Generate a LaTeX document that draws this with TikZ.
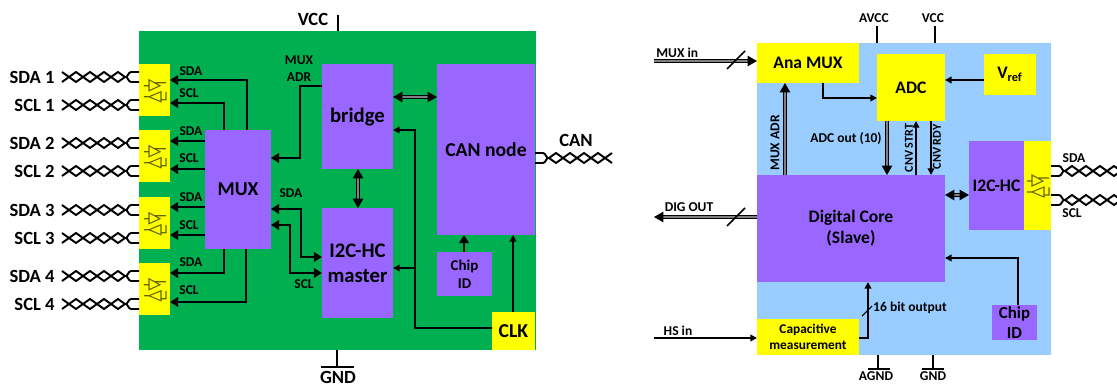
\documentclass[tikz,border=0pt]{standalone}
\usepackage{fontspec}
\setmainfont{Carlito}
\usetikzlibrary{arrows.meta}
\definecolor{chipgreen}{HTML}{00B050}
\definecolor{corepurple}{HTML}{9966FF}
\definecolor{padyellow}{HTML}{FFFF00}
\definecolor{slaveblue}{HTML}{99CCFF}
\tikzset{
    box/.style={anchor=north west, inner sep=0pt, outer sep=0pt, align=center, font=\fontsize{11.2}{14}\selectfont\bfseries},
    purplebox/.style={box, fill=corepurple},
    yellowbox/.style={box, fill=padyellow},
    smallbox/.style={font=\fontsize{10}{12}\selectfont\bfseries},
    lab/.style={inner sep=0pt, align=center, font=\fontsize{7.7}{9.6}\selectfont\bfseries},
    tinylab/.style={lab, font=\fontsize{6.9}{8}\selectfont\bfseries},
    pin/.style={inner sep=0pt, font=\fontsize{10.6}{12}\selectfont\bfseries},
    sig/.style={line width=1.5pt, ->, >={Triangle[length=4.6pt,width=5.4pt]}},
    wire/.style={line width=.9pt, ->, >={Triangle[length=3.8pt,width=3.8pt]}},
    bus/.style={line width=.6pt, double=gray, double distance=.8pt, >={Triangle[length=5.4pt,width=6pt]}},
    rail/.style={line width=1.1pt},
    twistline/.style={line width=1.1pt, black, line join=round},
    twist/.pic={
        \foreach \s in {1,-1}
            \draw[twistline] (0,5*\s) -- (-8,5*\s) to[out=180,in=35*\s] (-14,0) -- (-21,5*\s) -- (-28,0) -- (-35,-5*\s) -- (-42,0) -- (-49,5*\s) -- (-56,0) -- (-63,-5*\s) -- (-70,0) -- (-77,5*\s);
    },
    buffer/.pic={
        \draw[black!60!padyellow, line width=.6pt] (-5.5,-10.5) -- (-5.5,0.5) -- (5.5,-4.5) -- cycle
            (-10.5,-4.5) -- (-5.5,-4.5) (0.5,-7.5) -- (11.5,-7.5)
            (-5.5,6.5) -- (6.5,1.5) -- (6.5,11.5) -- cycle
            (-10.5,6.5) -- (-5.5,6.5) (6.5,9.5) -- (11.5,9.5) -- (11.5,2);
    }
}
\begin{document}
\begin{tikzpicture}[x=0.02cm,y=-0.02cm]
    \useasboundingbox (0,0) rectangle (1117,385);

    % Chip de la izquierda
    \node[box, fill=chipgreen, minimum width=7.94cm, minimum height=6.38cm] (chip) at (139,31) {};
    \node[purplebox, minimum width=1.32cm, minimum height=2.38cm] (mux) at (205,130) {MUX};
    \node[purplebox, minimum width=1.42cm, minimum height=2.1cm, font=\fontsize{11.8}{14}\selectfont\bfseries] (bridge) at (322,64) {\raisebox{-1.5pt}{bridge}};
    \node[purplebox, minimum width=1.42cm, minimum height=2.2cm, font=\fontsize{11.8}{14}\selectfont\bfseries] (master) at (322,208) {I2C-HC\\master};
    \node[purplebox, minimum width=1.96cm, minimum height=3.42cm] (can) at (437,64) {CAN node};
    \node[purplebox, minimum width=1.1cm, minimum height=.88cm, font=\fontsize{8.5}{10.4}\selectfont\bfseries] (chipid) at (437,252) {Chip\\ID};
    \node[yellowbox, minimum width=.86cm, minimum height=.76cm] (clk) at (492,312) {CLK};

    % Transceptores y pares trenzados
    \foreach \i/\y in {1/64,2/130,3/197,4/263} {
        \node[yellowbox, minimum width=.62cm, minimum height=1.05cm] (buf\i) at (139,\y) {};
        \pic at (buf\i.center) {buffer};
        \pic at (139,\y+13) {twist};
        \pic at (139,\y+41) {twist};
        \node[pin, anchor=east] (sda\i) at (55,\y+13) {SDA \i};
        \node[pin, anchor=east] (scl\i) at (55,\y+41) {SCL \i};
    }

    % Etiquetas SDA y SCL hacia los transceptores
    \foreach \n/\y in {a/71,b/131,c/197,d/262}
        \node[lab] (sdalab\n) at (191,\y) {SDA};
    \foreach \n/\y in {a/93,b/158,c/225,d/290}
        \node[lab] (scllab\n) at (189,\y) {SCL};

    % Salidas del MUX
    \draw[sig] (mux.north -| 247,0) |- (buf1.east |- 0,80);
    \draw[sig] (mux.north -| 224,0) |- (buf1.east |- 0,103);
    \draw[sig] (mux.west |- 0,141) -- (buf2.east |- 0,141);
    \draw[sig] (mux.west |- 0,169) -- (buf2.east |- 0,169);
    \draw[sig] (mux.west |- 0,207) -- (buf3.east |- 0,207);
    \draw[sig] (mux.west |- 0,235) -- (buf3.east |- 0,235);
    \draw[sig] (mux.south -| 224,0) |- (buf4.east |- 0,273);
    \draw[sig] (mux.south -| 246,0) |- (buf4.east |- 0,302);

    % Conexiones internas
    \draw[sig] (bridge.west |- 0,86) -| (300,158) -- (mux.east |- 0,158);
    \draw[sig, <->] (mux.east |- 0,209) -| (301,257) -- (master.west |- 0,257);
    \draw[sig, <->] (mux.east |- 0,225) -| (290,273) -- (master.west |- 0,273);
    \node[lab] (muxadr) at (299,68.5) {MUX\\ADR};
    \node[lab] (sdamid) at (291,193) {SDA};
    \node[lab] (sclmid) at (304,284) {SCL};
    \draw[bus, <->] (bridge.east |- 0,97) -- (can.west |- 0,97);
    \draw[bus, <->] (bridge.south -| 358,0) -- (master.north -| 358,0);
    \draw[wire] (clk.west |- 0,328) -| (415,130) -- (bridge.east |- 0,130);
    \draw[wire] (415,268) -- (master.east |- 0,268);
    \draw[wire] (clk.north -| 513,0) -- (can.south -| 513,0);
    \draw[sig] (chipid.north -| 464,0) -- (can.south -| 464,0);

    % Alimentacion y CAN
    \node[pin] (vcc) at (313,19) {VCC};
    \draw[rail] (chip.north -| 338,0) -- (338,15);
    \node[pin] (gnd) at (338,377) {GND};
    \draw[rail] (chip.south -| 337,0) -- (337,367);
    \draw[rail] (321,367) -- (354,367);
    \node[pin] (canlab) at (576,140) {CAN};
    \pic[xscale=-1] at (535,158) {twist};

    % Chip de la derecha
    \node[box, fill=slaveblue, minimum width=5.88cm, minimum height=6.24cm] (slave) at (757,43) {};
    \node[yellowbox, smallbox, minimum width=2.04cm, minimum height=.8cm] (anamux) at (757,43) {Ana MUX};
    \node[yellowbox, smallbox, minimum width=1.36cm, minimum height=1.34cm] (adc) at (877,54) {ADC};
    \node[yellowbox, smallbox, minimum width=1.04cm, minimum height=.82cm] (vref) at (984,54) {V\textsubscript{ref}};
    \node[purplebox, minimum width=3.76cm, minimum height=2.14cm, font=\fontsize{10}{12}\selectfont\bfseries] (core) at (757,175) {Digital Core\\(Slave)};
    \node[purplebox, smallbox, minimum width=1.1cm, minimum height=1.78cm] (hc) at (969,141) {I2C-HC};
    \node[yellowbox, minimum width=.54cm, minimum height=1.78cm] (pad) at (1024,141) {};
    \pic at (pad.center) {buffer};
    \node[yellowbox, minimum width=2.04cm, minimum height=.72cm, font=\fontsize{7.6}{9.4}\selectfont\bfseries] (cap) at (757,319) {Capacitive\\measurement};
    \node[purplebox, minimum width=.9cm, minimum height=.7cm, font=\fontsize{9.6}{11.3}\selectfont\bfseries] (chipidb) at (992,305) {Chip\\ID};

    % Flechas del chip de la derecha
    \coordinate (muxin) at (654,61);
    \coordinate (digout) at (654,217);
    \coordinate (hsin) at (654,338);
    \draw[bus, ->] (muxin) -- (anamux.west |- muxin);
    \draw[line width=1pt] (727,69) -- (745,51);
    \node[lab, anchor=west] (muxinlab) at (656,53) {MUX in};
    \draw[bus, ->] (core.west |- digout) -- (digout);
    \draw[line width=1pt] (727,226) -- (745,208);
    \node[lab] (digoutlab) at (689,207) {DIG OUT};
    \draw[wire] (hsin) -- (cap.west |- hsin);
    \node[lab] (hsinlab) at (678,331) {HS in};
    \draw[bus, ->] (core.north -| 785,0) -- (anamux.south -| 785,0);
    \node[lab, rotate=90] (muxadrb) at (775,143) {MUX ADR};
    \draw[wire] (anamux.south -| 823,0) |- (adc.west |- 0,98);
    \draw[bus, ->] (adc.south -| 887,0) -- (core.north -| 887,0);
    \node[lab] (adcout) at (846,139) {ADC out (10)};
    \draw[wire] (core.north -| 916,0) -- (adc.south -| 916,0);
    \node[tinylab, rotate=90] (cnvstrt) at (909,148) {CNV STRT};
    \draw[wire] (adc.south -| 931,0) -- (core.north -| 931,0);
    \node[tinylab, rotate=90] (cnvrdy) at (937,147) {CNV RDY};
    \draw[wire] (vref.west |- 0,80) -- (adc.east |- 0,80);
    \draw[bus, <->] (core.east |- 0,195) -- (hc.west |- 0,195);
    \draw[wire] (chipidb.north -| 1018,0) |- (core.east |- 0,258);
    \draw[wire] (cap.east |- hsin) -| (core.south -| 868,0);
    \draw[line width=.6pt] (862,316) -- (872,306);
    \node[lab] (bitout) at (910,308) {16 bit output};

    % Pares SDA y SCL, alimentacion
    \pic[xscale=-1] at (1051,171) {twist};
    \pic[xscale=-1] at (1051,200) {twist};
    \node[lab] (sdab) at (1074,158) {SDA};
    \node[lab] (sclb) at (1072,213) {SCL};
    \node[lab] (avcc) at (874,18) {AVCC};
    \draw[rail] (slave.north -| 877,0) -- (877,26);
    \node[lab] (vccb) at (933,18) {VCC};
    \draw[rail] (slave.north -| 935,0) -- (935,26);
    \node[lab] (agnd) at (876,376) {AGND};
    \draw[rail] (slave.south -| 878,0) -- (878,369);
    \draw[rail] (868,369) -- (890,369);
    \node[lab] (gndb) at (933,376) {GND};
    \draw[rail] (slave.south -| 933,0) -- (933,369);
    \draw[rail] (922,369) -- (944,369);
\end{tikzpicture}
\end{document}
